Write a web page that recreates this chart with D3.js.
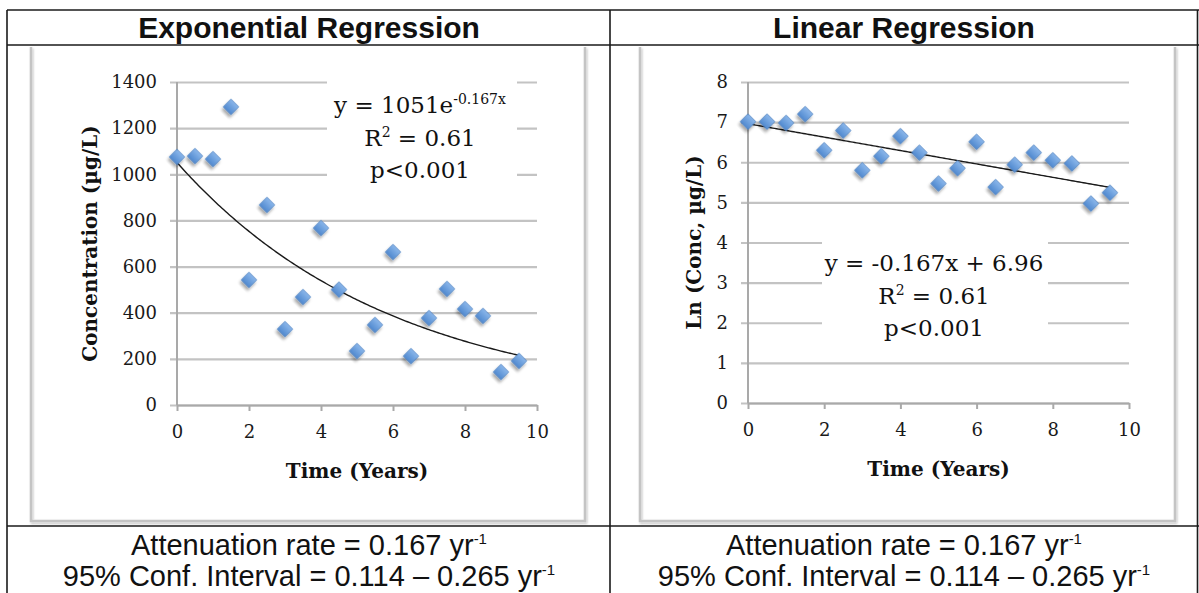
<!DOCTYPE html>
<html>
<head>
<meta charset="utf-8">
<script src="https://cdn.jsdelivr.net/npm/d3@7/dist/d3.min.js"></script>
<style>
  html, body { margin: 0; padding: 0; background: #fff; }
  svg { display: block; }
</style>
</head>
<body>
<svg id="chart" width="1199" height="593"></svg>
<script>
// Monitoring record: sampling time (years) and measured concentration (µg/L)
const years = [0, 0.5, 1, 1.5, 2, 2.5, 3, 3.5, 4, 4.5, 5, 5.5, 6, 6.5, 7, 7.5, 8, 8.5, 9, 9.5];
const concentration = [1075, 1079, 1066, 1292, 542, 867, 329, 468, 767, 500, 234, 347, 663, 212, 377, 503, 416, 386, 143, 191];
const lnConcentration = [7.01, 7.01, 6.98, 7.2, 6.3, 6.79, 5.8, 6.15, 6.65, 6.24, 5.47, 5.85, 6.51, 5.38, 5.94, 6.24, 6.05, 5.97, 4.97, 5.24];

// Axis ticks
const xTicks = [0, 2, 4, 6, 8, 10];
const concTicks = [0, 200, 400, 600, 800, 1000, 1200, 1400];
const lnTicks = [0, 1, 2, 3, 4, 5, 6, 7, 8];

// Fitted models (from the regression output)
const expFit = { a: 1051, k: -0.167 };
const linFit = { slope: -0.167, intercept: 6.96 };
const fitRange = [0, 9.5];

// Texts
const panelTitles = ["Exponential Regression", "Linear Regression"];
const rateLine = ["Attenuation rate = 0.167 yr", "-1"];
const ciLine = ["95% Conf. Interval = 0.114 \u2013 0.265 yr", "-1"];

const svg = d3.select("#chart");
const defs = svg.append("defs");

// Marker fill and soft drop shadows
const grad = defs.append("linearGradient").attr("id", "markerFill")
  .attr("x1", 0).attr("y1", 0).attr("x2", 0).attr("y2", 1);
grad.append("stop").attr("offset", "0%").attr("stop-color", "#8ab6ea");
grad.append("stop").attr("offset", "100%").attr("stop-color", "#5089cf");

const sh = defs.append("filter").attr("id", "markerShadow")
  .attr("x", "-50%").attr("y", "-50%").attr("width", "200%").attr("height", "200%");
sh.append("feDropShadow").attr("dx", 1).attr("dy", 3).attr("stdDeviation", 1.6)
  .attr("flood-color", "#000").attr("flood-opacity", 0.35);

const boxSh = defs.append("filter").attr("id", "boxShadow")
  .attr("x", "-5%").attr("y", "-5%").attr("width", "110%").attr("height", "110%");
boxSh.append("feDropShadow").attr("dx", 1).attr("dy", 1.5).attr("stdDeviation", 1.2)
  .attr("flood-color", "#000").attr("flood-opacity", 0.25);

const serif = "'DejaVu Serif', serif";
const sans = "'Liberation Sans', Arial, sans-serif";

// ----- table frame -----
const frame = svg.append("g").attr("stroke", "#1a1a1a").attr("stroke-width", 1.6).attr("fill", "none");
frame.append("line").attr("x1", 7).attr("x2", 1199).attr("y1", 10).attr("y2", 10);
frame.append("line").attr("x1", 7).attr("x2", 1199).attr("y1", 45).attr("y2", 45);
frame.append("line").attr("x1", 7).attr("x2", 1199).attr("y1", 526).attr("y2", 526);
frame.append("line").attr("x1", 7).attr("x2", 7).attr("y1", 10).attr("y2", 593);
frame.append("line").attr("x1", 610).attr("x2", 610).attr("y1", 10).attr("y2", 593);
frame.append("line").attr("x1", 1197.5).attr("x2", 1197.5).attr("y1", 10).attr("y2", 593);

// titles and bottom notes
const cellCenters = [309, 904];
cellCenters.forEach((cx, i) => {
  svg.append("text").attr("x", cx).attr("y", 38).attr("text-anchor", "middle")
    .attr("font-family", sans).attr("font-weight", "bold").attr("font-size", 30)
    .attr("fill", "#111").text(panelTitles[i]);

  [[rateLine, 555], [ciLine, 586]].forEach(([parts, yb]) => {
    const t = svg.append("text").attr("x", cx).attr("y", yb).attr("text-anchor", "middle")
      .attr("font-family", sans).attr("font-size", 29).attr("fill", "#111");
    t.append("tspan").text(parts[0]);
    t.append("tspan").attr("font-size", 15).attr("dy", -11).text(parts[1]);
  });
});

// ----- chart panels -----
function drawPanel(cfg) {
  // Chart area box (sides and bottom)
  svg.append("path")
    .attr("d", `M${cfg.box[0]},47 V${cfg.box[2]} H${cfg.box[1]} V47`)
    .attr("fill", "none").attr("stroke", "#c4c4c4").attr("stroke-width", 2.5)
    .attr("filter", "url(#boxShadow)");

  const x = d3.scaleLinear().domain([0, 10]).range([cfg.left, cfg.right]);
  const y = d3.scaleLinear().domain(cfg.yDomain).range([cfg.bottom, cfg.top]);
  const width = cfg.right - cfg.left;
  const g = svg.append("g");

  // gridlines + y tick labels
  const yAxis = g.append("g").attr("transform", `translate(${cfg.right},0)`)
    .call(d3.axisLeft(y).tickValues(cfg.yTicks).tickSize(width + 7).tickPadding(13).tickFormat(d3.format("d")));
  yAxis.select(".domain").remove();
  yAxis.selectAll(".tick line").attr("stroke", "#c3c3c3").attr("stroke-width", 2.2);
  yAxis.selectAll(".tick text").attr("font-family", serif).attr("font-size", 18).attr("fill", "#1a1a1a");

  // white label box over the gridlines
  g.append("rect").attr("x", cfg.labelBox[0]).attr("y", cfg.labelBox[1])
    .attr("width", cfg.labelBox[2]).attr("height", cfg.labelBox[3]).attr("fill", "#fff");

  // y axis line
  g.append("line").attr("x1", cfg.left).attr("x2", cfg.left)
    .attr("y1", cfg.top).attr("y2", cfg.bottom)
    .attr("stroke", "#a9a9a9").attr("stroke-width", 2);

  // x axis
  const xAxis = g.append("g").attr("transform", `translate(0,${cfg.bottom})`)
    .call(d3.axisBottom(x).tickValues(xTicks).tickSizeInner(6).tickSizeOuter(0).tickPadding(14));
  xAxis.select(".domain").attr("stroke", "#a9a9a9").attr("stroke-width", 2);
  xAxis.selectAll(".tick line").attr("stroke", "#a9a9a9").attr("stroke-width", 2);
  xAxis.selectAll(".tick text").attr("font-family", serif).attr("font-size", 18).attr("fill", "#1a1a1a");

  // trend line
  const fx = d3.range(fitRange[0], fitRange[1] + 1e-9, 0.05);
  g.append("path")
    .datum(fx)
    .attr("d", d3.line().x(d => x(d)).y(d => y(cfg.fit(d))))
    .attr("fill", "none").attr("stroke", "#1a1a1a").attr("stroke-width", 1.4);

  // data markers (diamonds)
  const diamond = d3.symbol().type(d3.symbolSquare).size(120);
  g.append("g").selectAll("path").data(years.map((t, i) => [t, cfg.values[i]]))
    .join("path")
    .attr("d", diamond)
    .attr("transform", d => `translate(${x(d[0])},${y(d[1])}) rotate(45)`)
    .attr("fill", "url(#markerFill)").attr("stroke", "#4a7fc0").attr("stroke-width", 0.6)
    .attr("filter", "url(#markerShadow)");

  // axis titles
  g.append("text").attr("x", (cfg.left + cfg.right) / 2).attr("y", cfg.xTitleY)
    .attr("text-anchor", "middle").attr("font-family", serif).attr("font-weight", "bold")
    .attr("font-size", 20).attr("fill", "#111").text("Time (Years)");
  g.append("text")
    .attr("transform", `translate(${cfg.yTitleX},${(cfg.top + cfg.bottom) / 2}) rotate(-90)`)
    .attr("text-anchor", "middle").attr("font-family", serif).attr("font-weight", "bold")
    .attr("font-size", 20).attr("fill", "#111").text(cfg.yTitle);

  // regression statistics
  const eq = g.append("g").attr("font-family", serif).attr("font-size", 23)
    .attr("fill", "#111").attr("text-anchor", "middle");
  cfg.statLines.forEach((parts, i) => {
    const t = eq.append("text").attr("x", cfg.statX).attr("y", cfg.statY + i * 32.5);
    parts.forEach(p => {
      const s = t.append("tspan").text(p.text);
      if (p.sup) s.attr("font-size", 14).attr("dy", -9);
      if (p.after) s.attr("dy", 9);
    });
  });
}

drawPanel({
  box: [31, 585, 521],
  left: 177, right: 537, top: 82, bottom: 405,
  yDomain: [0, 1400], yTicks: concTicks,
  values: concentration,
  fit: t => expFit.a * Math.exp(expFit.k * t),
  labelBox: [327, 72, 190, 116],
  xTitleY: 478, yTitleX: 97,
  yTitle: "Concentration (\u00b5g/L)",
  statX: 420, statY: 113,
  statLines: [
    [{ text: "y = 1051e" }, { text: "-0.167x", sup: true }],
    [{ text: "R" }, { text: "2", sup: true }, { text: " = 0.61", after: true }],
    [{ text: "p<0.001" }]
  ]
});

drawPanel({
  box: [640, 1175, 521],
  left: 748, right: 1129, top: 82, bottom: 403,
  yDomain: [0, 8], yTicks: lnTicks,
  values: lnConcentration,
  fit: t => linFit.slope * t + linFit.intercept,
  labelBox: [822, 232, 226, 118],
  xTitleY: 476, yTitleX: 701,
  yTitle: "Ln (Conc, \u00b5g/L)",
  statX: 934, statY: 271,
  statLines: [
    [{ text: "y = -0.167x + 6.96" }],
    [{ text: "R" }, { text: "2", sup: true }, { text: " = 0.61", after: true }],
    [{ text: "p<0.001" }]
  ]
});
</script>
</body>
</html>
